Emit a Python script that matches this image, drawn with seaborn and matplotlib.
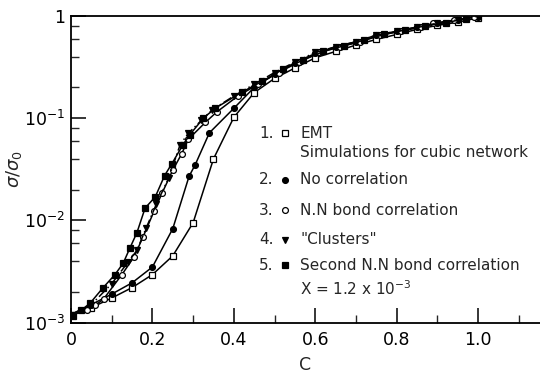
import matplotlib
matplotlib.use("Agg")
import matplotlib.pyplot as plt
import seaborn as sns
import numpy as np
import pandas as pd
from matplotlib.ticker import FixedLocator, NullFormatter, FixedFormatter

# ---- data ----
emt_c = [0.0, 0.05, 0.10, 0.15, 0.20, 0.25, 0.30, 0.35, 0.40, 0.45, 0.50, 0.55,
         0.60, 0.65, 0.70, 0.75, 0.80, 0.85, 0.90, 0.95, 1.00]
emt_s = [1.2e-3, 1.4e-3, 1.74e-3, 2.2e-3, 2.95e-3, 4.5e-3, 9.5e-3, 4.0e-2, 0.102, 0.178,
         0.245, 0.31, 0.39, 0.45, 0.52, 0.59, 0.66, 0.74, 0.81, 0.87, 0.96]

nocorr_c = [0.0, 0.05, 0.10, 0.15, 0.20, 0.25, 0.29, 0.305, 0.34, 0.40, 0.45, 0.50, 0.55,
            0.60, 0.65, 0.70, 0.75, 0.80, 0.85, 0.90, 0.95, 1.00]
nocorr_s = [1.2e-3, 1.5e-3, 1.9e-3, 2.45e-3, 3.5e-3, 8.3e-3, 0.027, 0.035, 0.072, 0.125,
            0.20, 0.27, 0.35, 0.43, 0.50, 0.56, 0.65, 0.71, 0.78, 0.85, 0.92, 0.98]

nn_c = [0.0, 0.04, 0.06, 0.08, 0.125, 0.155, 0.177, 0.204, 0.224, 0.25, 0.272, 0.288,
        0.33, 0.358, 0.41, 0.46, 0.51, 0.56, 0.61, 0.66, 0.71, 0.76, 0.81, 0.86,
        0.89, 0.94, 0.99]
nn_s = [1.2e-3, 1.32e-3, 1.48e-3, 1.7e-3, 2.95e-3, 4.4e-3, 6.9e-3, 0.0123, 0.0186, 0.031,
        0.045, 0.062, 0.091, 0.115, 0.165, 0.215, 0.28, 0.355, 0.44, 0.50, 0.56, 0.65,
        0.71, 0.78, 0.85, 0.91, 0.98]

clu_c = [0.0, 0.05, 0.10, 0.14, 0.162, 0.185, 0.21, 0.24, 0.268, 0.288, 0.32, 0.346,
         0.40, 0.45, 0.50, 0.55, 0.60, 0.65, 0.70, 0.75, 0.80, 0.85, 0.90, 0.95, 1.00]
clu_s = [1.2e-3, 1.5e-3, 2.4e-3, 3.9e-3, 5.1e-3, 8.5e-3, 0.0145, 0.026, 0.055, 0.071,
         0.095, 0.12, 0.165, 0.215, 0.28, 0.355, 0.44, 0.50, 0.56, 0.65, 0.71, 0.78,
         0.85, 0.92, 0.99]

sec_c = [0.005, 0.025, 0.047, 0.079, 0.108, 0.128, 0.145, 0.162, 0.182, 0.207, 0.23,
         0.248, 0.275, 0.292, 0.325, 0.354, 0.42, 0.47, 0.52, 0.57, 0.62, 0.67, 0.72,
         0.77, 0.82, 0.87, 0.92, 0.97]
sec_s = [1.15e-3, 1.32e-3, 1.55e-3, 2.2e-3, 2.95e-3, 3.8e-3, 5.4e-3, 7.6e-3, 0.0132,
         0.017, 0.0275, 0.036, 0.055, 0.069, 0.10, 0.125, 0.18, 0.23, 0.30, 0.37, 0.45,
         0.51, 0.58, 0.66, 0.73, 0.80, 0.86, 0.94]

x_ticks = [0.0, 0.2, 0.4, 0.6, 0.8, 1.0]
x_ticklabels = ["0", "0.2", "0.4", "0.6", "0.8", "1.0"]
y_ticks = [1e-3, 1e-2, 1e-1, 1.0]
y_ticklabels = [r"$10^{-3}$", r"$10^{-2}$", r"$10^{-1}$", "1"]

legend_nums = ["1.", "2.", "3.", "4.", "5."]
legend_labels = ["EMT", "No correlation", "N.N bond correlation", '"Clusters"',
                 "Second N.N bond correlation"]

# ---- figure ----
sns.set_style("ticks")
plt.rcParams['font.family'] = ['DejaVu Sans']
plt.rcParams['mathtext.fontset'] = 'dejavusans'

fig = plt.figure(figsize=(5.4, 3.73), dpi=100)
ax = fig.add_axes([71/540, 1 - 322.6/373, 1 - 71/540, (322.6 - 16)/373])

styles = [
    (emt_c, emt_s, 's', 'white', '-'),
    (nocorr_c, nocorr_s, 'o', 'black', '-'),
    (nn_c, nn_s, 'o', 'white', '-'),
    (clu_c, clu_s, 'v', 'black', (0, (6, 2, 1, 2))),
    (sec_c, sec_s, 's', 'black', '-'),
]
for c, s, m, fc, ls in styles:
    sns.lineplot(x=c, y=s, ax=ax, color='black', linewidth=1.1, linestyle=ls,
                 marker=m, markersize=4.2, markerfacecolor=fc,
                 markeredgecolor='black', markeredgewidth=0.9, sort=False)

ax.set_yscale('log')
ax.set_xlim(0, 1.152)
ax.set_ylim(1e-3, 1.0)

ax.xaxis.set_major_locator(FixedLocator(x_ticks))
ax.xaxis.set_major_formatter(FixedFormatter(x_ticklabels))
ax.xaxis.set_minor_locator(FixedLocator([0.1, 0.3, 0.5, 0.7, 0.9, 1.1]))
ax.yaxis.set_major_locator(FixedLocator(y_ticks))
ax.yaxis.set_major_formatter(FixedFormatter(y_ticklabels))
minors = [k * 10.0**e for e in (-3, -2, -1) for k in (2, 4, 6, 8)]
ax.yaxis.set_minor_locator(FixedLocator(minors))
ax.yaxis.set_minor_formatter(NullFormatter())

ax.tick_params(axis='both', which='major', direction='in', length=11, width=1.1,
               labelsize=12.5, colors='black')
ax.tick_params(axis='both', which='minor', direction='in', length=6, width=1.0)
ax.tick_params(axis='x', pad=6)
ax.tick_params(axis='y', pad=4)

for side in ('left', 'bottom', 'top'):
    ax.spines[side].set_linewidth(1.3)
    ax.spines[side].set_color('black')
ax.spines['right'].set_visible(False)

ax.set_xlabel("C", fontsize=12.5, labelpad=5)
ax.set_ylabel(r"$\sigma/\sigma_0$", fontsize=13, labelpad=0)

# ---- in-plot legend ----
def px(x, y):
    return x / 540, 1 - y / 373

rows_y = [133, 180, 210, 240, 265]
markers = [('s', 'white'), ('o', 'black'), ('o', 'white'), ('v', 'black'), ('s', 'black')]
fs = 11
for num, lab, yy, (m, fc) in zip(legend_nums, legend_labels, rows_y, markers):
    fig.text(*px(259, yy), num, fontsize=fs, va='center', ha='left')
    fig.add_artist(plt.Line2D([285 / 540], [1 - yy / 373], marker=m, markersize=4.2,
                              markerfacecolor=fc, markeredgecolor='black',
                              markeredgewidth=0.9, linestyle='none',
                              transform=fig.transFigure))
    fig.text(*px(300, yy), lab, fontsize=fs, va='center', ha='left')
fig.text(*px(300, 152), "Simulations for cubic network", fontsize=fs, va='center', ha='left')
fig.text(*px(300, 289), r"X = 1.2 x 10$^{-3}$", fontsize=fs, va='center', ha='left')

fig.savefig("out.png", dpi=100)
